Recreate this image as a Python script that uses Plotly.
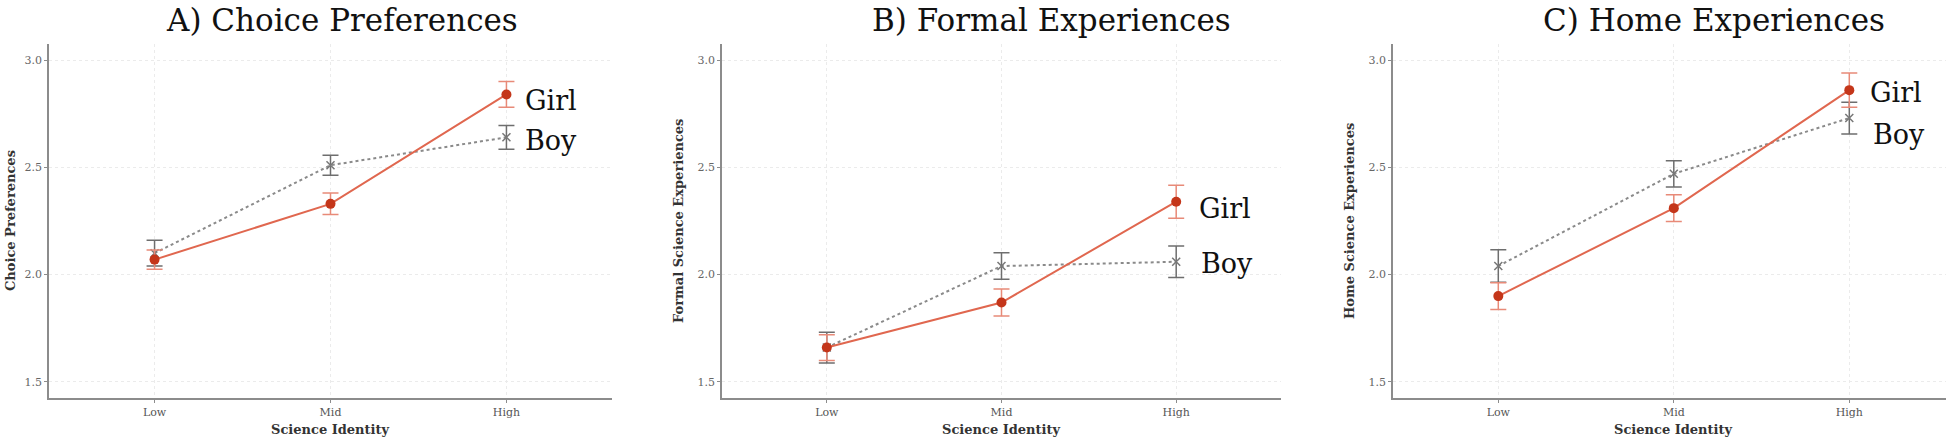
import plotly.graph_objects as go

categories = ["Low", "Mid", "High"]

# A) Choice Preferences
choice_girl = [2.07, 2.33, 2.84]
choice_girl_err = [0.045, 0.05, 0.06]
choice_boy = [2.10, 2.51, 2.64]
choice_boy_err = [0.06, 0.047, 0.055]

# B) Formal Experiences
formal_girl = [1.66, 1.87, 2.34]
formal_girl_err = [0.06, 0.063, 0.077]
formal_boy = [1.66, 2.04, 2.06]
formal_boy_err = [0.072, 0.062, 0.073]

# C) Home Experiences
home_girl = [1.90, 2.31, 2.86]
home_girl_err = [0.062, 0.062, 0.08]
home_boy = [2.04, 2.47, 2.73]
home_boy_err = [0.076, 0.061, 0.074]

panel_titles = ["A) Choice Preferences", "B) Formal Experiences", "C) Home Experiences"]
y_titles = ["Choice Preferences", "Formal Science Experiences", "Home Science Experiences"]
x_title = "Science Identity"
y_ticks = [1.5, 2.0, 2.5, 3.0]

# label positions (data units) for the Girl / Boy text
girl_label_y = [2.81, 2.31, 2.85]
boy_label_y = [2.625, 2.05, 2.655]

panels = [
    (choice_girl, choice_girl_err, choice_boy, choice_boy_err),
    (formal_girl, formal_girl_err, formal_boy, formal_boy_err),
    (home_girl, home_girl_err, home_boy, home_boy_err),
]

W, H = 1946, 442
x_domains = [[49 / W, 612 / W], [722 / W, 1281 / W], [1393 / W, 1.0]]
x_ranges = [[-0.6, 2.6], [-0.6, 2.6], [-0.6, 2.551]]
y_domain = [1 - 398 / H, 1 - 44 / H]

GIRL_LINE = "#e0674f"
GIRL_DOT = "#c4361a"
GIRL_ERR = "#e88a78"
BOY_LINE = "#8a8a8a"
BOY_ERR = "#6e6e6e"
SERIF = "DejaVu Serif"

fig = go.Figure()
layout = {}
annotations = []

for i, (g, ge, b, be) in enumerate(panels):
    n = "" if i == 0 else str(i + 1)
    xa, ya = "x" + n, "y" + n

    fig.add_trace(go.Scatter(
        x=categories, y=b, xaxis=xa, yaxis=ya, mode="lines+markers", name="Boy",
        line=dict(color=BOY_LINE, width=2, dash="dot"),
        marker=dict(symbol="x-thin", size=8, line=dict(color="#777777", width=1.5)),
        error_y=dict(type="data", array=be, color=BOY_ERR, thickness=1.5, width=8),
        showlegend=False,
    ))
    fig.add_trace(go.Scatter(
        x=categories, y=g, xaxis=xa, yaxis=ya, mode="lines+markers", name="Girl",
        line=dict(color=GIRL_LINE, width=2),
        marker=dict(symbol="circle", size=10, color=GIRL_DOT),
        error_y=dict(type="data", array=ge, color=GIRL_ERR, thickness=1.5, width=8),
        showlegend=False,
    ))

    layout["xaxis" + n] = dict(
        domain=x_domains[i], anchor=ya, type="category", range=x_ranges[i],
        showline=True, linecolor="#8c8c8c", linewidth=1.5,
        ticks="outside", ticklen=3, tickcolor="#8c8c8c",
        showgrid=True, gridcolor="#ebebeb", griddash="dot", gridwidth=1,
        tickfont=dict(family=SERIF, size=11, color="#555555"),
        zeroline=False,
    )
    layout["yaxis" + n] = dict(
        domain=y_domain, anchor=xa, range=[1.425, 3.075],
        tickvals=y_ticks, ticktext=["1.5", "2.0", "2.5", "3.0"],
        showline=True, linecolor="#8c8c8c", linewidth=1.5,
        ticks="outside", ticklen=3, tickcolor="#8c8c8c",
        showgrid=True, gridcolor="#ebebeb", griddash="dot", gridwidth=1,
        tickfont=dict(family=SERIF, size=11, color="#666666"),
        zeroline=False,
    )

    annotations.append(dict(
        text=panel_titles[i], xref="x" + n + " domain", yref="paper",
        x=[0.52, 0.59, 0.58][i], y=1 - 20 / H, xanchor="center", yanchor="middle",
        showarrow=False, font=dict(family=SERIF, size=31, color="#111111"),
    ))
    annotations.append(dict(
        text="Girl", xref=xa, yref=ya, x="High", y=girl_label_y[i],
        xanchor="left", yanchor="middle", xshift=[17, 21, 19][i], showarrow=False,
        font=dict(family=SERIF, size=27, color="#111111"),
    ))
    annotations.append(dict(
        text="Boy", xref=xa, yref=ya, x="High", y=boy_label_y[i],
        xanchor="left", yanchor="middle", xshift=[17, 23, 22][i], showarrow=False,
        font=dict(family=SERIF, size=27, color="#111111"),
    ))
    annotations.append(dict(
        text="<b>" + y_titles[i] + "</b>", xref="x" + n + " domain", yref="paper",
        x=0, xshift=[-39, -44, -44][i], y=1 - 221 / H, xanchor="center", yanchor="middle",
        textangle=-90, showarrow=False, font=dict(family=SERIF, size=13, color="#333333"),
    ))
    annotations.append(dict(
        text="<b>" + x_title + "</b>", xref=xa, yref="paper", x="Mid", y=1 - 429 / H,
        xanchor="center", yanchor="middle", showarrow=False,
        font=dict(family=SERIF, size=13, color="#333333"),
    ))

fig.update_layout(
    width=W, height=H,
    margin=dict(l=0, r=0, t=0, b=0),
    paper_bgcolor="white", plot_bgcolor="white",
    annotations=annotations,
    **layout,
)

# drop the browser's default body margin so the figure fills the window
fig.write_html("out.html", config={"displayModeBar": False},
               post_script="document.body.style.margin = '0';")
